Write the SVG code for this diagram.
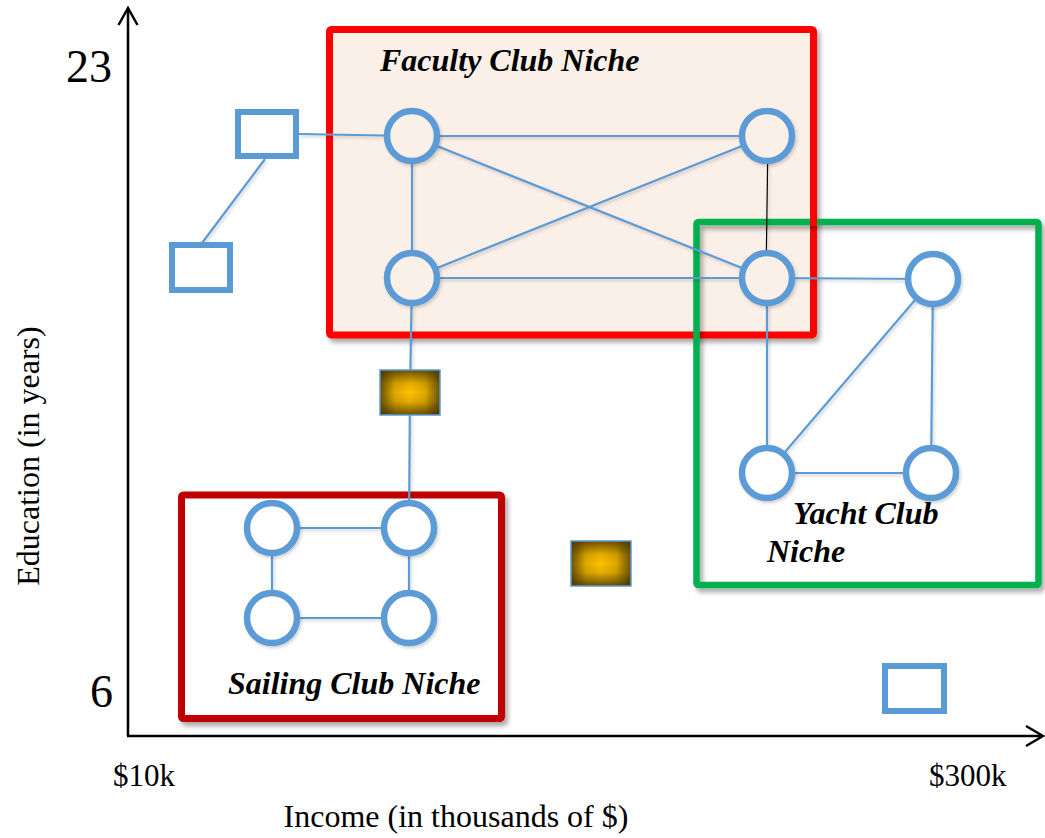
<svg xmlns="http://www.w3.org/2000/svg" width="1045" height="838" viewBox="0 0 1045 838">
  <defs>
    <filter id="shadow" x="-10%" y="-10%" width="130%" height="130%">
      <feDropShadow dx="3" dy="4" stdDeviation="2.5" flood-color="#000" flood-opacity="0.35"/>
    </filter>
    <filter id="soft" x="-20%" y="-20%" width="150%" height="150%">
      <feDropShadow dx="1.5" dy="2" stdDeviation="1.5" flood-color="#000" flood-opacity="0.18"/>
    </filter>
    <!-- rectangular "path" shading: dark rim on all four sides -->
    <linearGradient id="rimX" x1="0" y1="0" x2="1" y2="0">
      <stop offset="0" stop-color="#3A2C00" stop-opacity="0.75"/>
      <stop offset="0.25" stop-color="#3A2C00" stop-opacity="0.15"/>
      <stop offset="0.5" stop-color="#3A2C00" stop-opacity="0"/>
      <stop offset="0.75" stop-color="#3A2C00" stop-opacity="0.15"/>
      <stop offset="1" stop-color="#3A2C00" stop-opacity="0.75"/>
    </linearGradient>
    <linearGradient id="rimY" x1="0" y1="0" x2="0" y2="1">
      <stop offset="0" stop-color="#3A2C00" stop-opacity="0.75"/>
      <stop offset="0.3" stop-color="#3A2C00" stop-opacity="0.12"/>
      <stop offset="0.5" stop-color="#3A2C00" stop-opacity="0"/>
      <stop offset="0.7" stop-color="#3A2C00" stop-opacity="0.12"/>
      <stop offset="1" stop-color="#3A2C00" stop-opacity="0.75"/>
    </linearGradient>
    <style>
      .axis { stroke: #000; stroke-width: 2.5; fill: none; }
      .tick { font-family: "Liberation Serif", "Times New Roman", serif; fill: #000; }
      .niche { font-family: "Liberation Serif", "Times New Roman", serif; font-weight: bold; font-style: italic; font-size: 32px; fill: #000; }
      .edge { stroke: #5B9BD5; stroke-width: 2.2; fill: none; }
      .ring { stroke: #5B9BD5; stroke-width: 6.5; }
      .box { stroke: #5B9BD5; stroke-width: 6; fill: #fff; }
      .gold-base { fill: #FFC000; }
      .gold-x { fill: url(#rimX); }
      .gold-y { fill: url(#rimY); }
      .gold-rim { fill: none; stroke: #5B9BD5; stroke-width: 1.5; }
    </style>
  </defs>

  <rect width="1045" height="838" fill="#fff"/>

  <!-- axes -->
  <g id="axes">
    <line class="axis" x1="128" y1="9" x2="128" y2="736"/>
    <polyline class="axis" points="118.5,25 128,8 137.5,25"/>
    <line class="axis" x1="127" y1="736" x2="1042" y2="736"/>
    <polyline class="axis" points="1026,726 1043,736 1026,746"/>
    <text class="tick" x="112" y="82" font-size="46" text-anchor="end">23</text>
    <text class="tick" x="113" y="707" font-size="46" text-anchor="end">6</text>
    <text class="tick" x="113" y="786" font-size="31">$10k</text>
    <text class="tick" x="929" y="786" font-size="31">$300k</text>
    <text class="tick" x="456" y="827" font-size="32" text-anchor="middle">Income (in thousands of $)</text>
    <text class="tick" transform="translate(39,456) rotate(-90)" font-size="32" text-anchor="middle">Education (in years)</text>
  </g>

  <!-- niche regions -->
  <g id="faculty-niche" filter="url(#shadow)">
    <rect x="329.5" y="29.5" width="484" height="305.5" rx="2" fill="#FBF0E8" stroke="#FF0000" stroke-width="7"/>
  </g>
  <g id="yacht-niche" filter="url(#shadow)">
    <rect x="696.5" y="222" width="342" height="363" rx="2" fill="none" stroke="#00B050" stroke-width="6.5"/>
  </g>
  <g id="sailing-niche" filter="url(#shadow)">
    <rect x="181.5" y="495" width="320" height="223.5" rx="2" fill="#fff" stroke="#C00000" stroke-width="7"/>
  </g>
  <!-- red edge passes over the green top edge -->
  <line x1="813.5" y1="218" x2="813.5" y2="226" stroke="#FF0000" stroke-width="7"/>

  <!-- connectors -->
  <g id="connectors" filter="url(#soft)">
    <line class="edge" x1="299" y1="134" x2="412" y2="136"/>
    <line class="edge" x1="265" y1="159" x2="202" y2="243"/>
    <line class="edge" x1="412" y1="136" x2="767" y2="136"/>
    <line class="edge" x1="412" y1="136" x2="767" y2="278"/>
    <line class="edge" x1="767" y1="136" x2="412" y2="278"/>
    <line class="edge" x1="412" y1="136" x2="412" y2="278"/>
    <line class="edge" x1="412" y1="278" x2="767" y2="278"/>
    <line x1="768" y1="136" x2="766" y2="278" stroke="#000" stroke-width="1.2"/>
    <line class="edge" x1="767" y1="278" x2="933" y2="279"/>
    <line class="edge" x1="767" y1="278" x2="767" y2="473"/>
    <line class="edge" x1="933" y1="279" x2="767" y2="473"/>
    <line class="edge" x1="933" y1="279" x2="931" y2="473"/>
    <line class="edge" x1="767" y1="473" x2="931" y2="473"/>
    <line class="edge" x1="412" y1="278" x2="410" y2="392"/>
    <line class="edge" x1="410" y1="392" x2="409" y2="528"/>
    <line class="edge" x1="272" y1="528" x2="409" y2="528"/>
    <line class="edge" x1="272" y1="528" x2="272" y2="618"/>
    <line class="edge" x1="409" y1="528" x2="409" y2="618"/>
    <line class="edge" x1="272" y1="618" x2="409" y2="618"/>
  </g>

  <!-- faculty club members -->
  <g id="faculty-1" filter="url(#soft)"><circle class="ring" cx="412" cy="136" r="25" fill="#FBF0E8"/></g>
  <g id="faculty-2" filter="url(#soft)"><circle class="ring" cx="767" cy="136" r="25" fill="#FBF0E8"/></g>
  <g id="faculty-3" filter="url(#soft)"><circle class="ring" cx="412" cy="278" r="25" fill="#FBF0E8"/></g>
  <g id="faculty-4" filter="url(#soft)"><circle class="ring" cx="767" cy="278" r="25" fill="#FBF0E8"/></g>

  <!-- yacht club members -->
  <g id="yacht-1" filter="url(#soft)"><circle class="ring" cx="933" cy="279" r="25" fill="#fff"/></g>
  <g id="yacht-2" filter="url(#soft)"><circle class="ring" cx="767" cy="473" r="25" fill="#fff"/></g>
  <g id="yacht-3" filter="url(#soft)"><circle class="ring" cx="931" cy="473" r="25" fill="#fff"/></g>

  <!-- sailing club members -->
  <g id="sailing-1" filter="url(#soft)"><circle class="ring" cx="272" cy="528" r="25" fill="#fff"/></g>
  <g id="sailing-2" filter="url(#soft)"><circle class="ring" cx="409" cy="528" r="25" fill="#fff"/></g>
  <g id="sailing-3" filter="url(#soft)"><circle class="ring" cx="272" cy="618" r="25" fill="#fff"/></g>
  <g id="sailing-4" filter="url(#soft)"><circle class="ring" cx="409" cy="618" r="25" fill="#fff"/></g>

  <!-- unaffiliated individuals -->
  <g id="loner-1"><rect class="box" x="238" y="112" width="58" height="44"/></g>
  <g id="loner-2"><rect class="box" x="172" y="245" width="58" height="45"/></g>
  <g id="loner-3"><rect class="box" x="885" y="666" width="59" height="45"/></g>

  <!-- brokers -->
  <g id="broker-1">
    <rect class="gold-base" x="380" y="370" width="60" height="45"/>
    <rect class="gold-x" x="380" y="370" width="60" height="45"/>
    <rect class="gold-y" x="380" y="370" width="60" height="45"/>
    <rect class="gold-rim" x="380" y="370" width="60" height="45"/>
  </g>
  <g id="broker-2">
    <rect class="gold-base" x="571" y="541" width="60" height="45"/>
    <rect class="gold-x" x="571" y="541" width="60" height="45"/>
    <rect class="gold-y" x="571" y="541" width="60" height="45"/>
    <rect class="gold-rim" x="571" y="541" width="60" height="45"/>
  </g>

  <!-- niche labels -->
  <g id="labels">
    <text class="niche" x="380" y="71">Faculty Club Niche</text>
    <text class="niche" x="793" y="524">Yacht Club</text>
    <text class="niche" x="767" y="562">Niche</text>
    <text class="niche" x="228" y="694">Sailing Club Niche</text>
  </g>
</svg>
